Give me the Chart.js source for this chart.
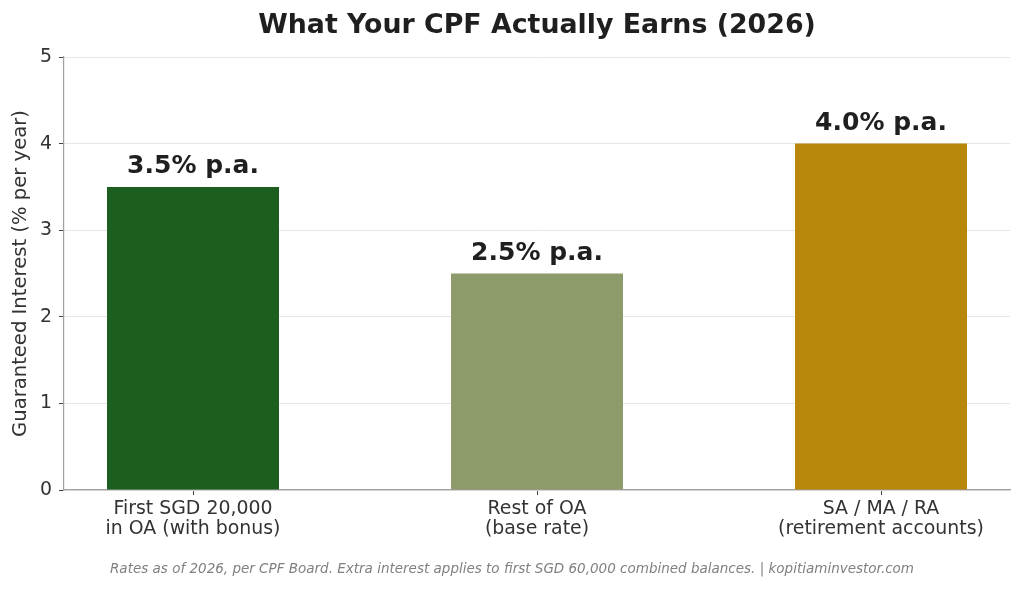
<!DOCTYPE html>
<html>
<head>
<meta charset="utf-8">
<script src="https://cdn.jsdelivr.net/npm/chart.js@4/dist/chart.umd.min.js"></script>
<style>
html,body{margin:0;padding:0;background:#fff;}
#wrap{width:1024px;height:590px;position:relative;}
</style>
</head>
<body>
<div id="wrap"><canvas id="c" width="1024" height="590"></canvas></div>
<script>
const categories = [
  ["First SGD 20,000", "in OA (with bonus)"],
  ["Rest of OA", "(base rate)"],
  ["SA / MA / RA", "(retirement accounts)"]
];
const rates = [3.5, 2.5, 4.0];
const rateLabels = ["3.5% p.a.", "2.5% p.a.", "4.0% p.a."];
const barColors = ["#1b5e20", "#8d9b6a", "#b8860b"];
const yTicks = [0, 1, 2, 3, 4, 5];
const titleText = "What Your CPF Actually Earns (2026)";
const yAxisTitle = "Guaranteed Interest (% per year)";
const footnote = "Rates as of 2026, per CPF Board. Extra interest applies to first SGD 60,000 combined balances. | kopitiaminvestor.com";

const FONT = "'DejaVu Sans'";

const overlay = {
  id: 'overlay',
  afterDatasetsDraw(chart) {
    const ctx = chart.ctx;
    const meta = chart.getDatasetMeta(0);
    ctx.save();
    ctx.fillStyle = '#1f1f1f';
    ctx.font = "bold 25px " + FONT;
    ctx.textAlign = 'center';
    ctx.textBaseline = 'alphabetic';
    meta.data.forEach((bar, i) => {
      ctx.fillText(rateLabels[i], bar.x, bar.y - 14);
    });
    ctx.restore();
  },
  afterDraw(chart) {
    const ctx = chart.ctx;
    const ca = chart.chartArea;
    ctx.save();
    ctx.fillStyle = '#1f1f1f';
    ctx.font = "bold 26.8px " + FONT;
    ctx.textAlign = 'center';
    ctx.textBaseline = 'alphabetic';
    ctx.fillText(titleText, (ca.left + ca.right) / 2, 33);
    ctx.fillStyle = '#808080';
    ctx.font = "italic 13.5px " + FONT;
    ctx.fillText(footnote, chart.width / 2, 573);
    ctx.restore();
  }
};

new Chart(document.getElementById('c'), {
  type: 'bar',
  data: {
    datasets: [{
      data: rates.map((v, i) => ({x: i, y: v})),
      backgroundColor: barColors,
      borderWidth: 0,
      barPercentage: 1.0,
      categoryPercentage: 0.5
    }]
  },
  options: {
    responsive: false,
    animation: false,
    devicePixelRatio: 1,
    layout: { padding: { top: 57, right: 14, left: 0, bottom: 0 } },
    plugins: {
      legend: { display: false },
      tooltip: { enabled: false },
      title: { display: false }
    },
    scales: {
      x: {
        type: 'linear',
        offset: false,
        min: -0.375,
        max: 2.375,
        afterBuildTicks(scale) {
          scale.ticks = categories.map((c, i) => ({value: i}));
        },
        afterFit(scale) { scale.height = 100; },
        ticks: {
          callback: (v) => categories[v] || '',
          color: '#333333',
          font: { family: FONT, size: 18.9, lineHeight: 1.06 },
          padding: 4,
          maxRotation: 0,
          autoSkip: false
        },
        grid: {
          offset: false,
          drawOnChartArea: false,
          drawTicks: true,
          tickLength: 5,
          tickColor: '#444444',
          tickWidth: 1
        },
        border: { display: true, color: '#a0a0a0', width: 1.2 }
      },
      y: {
        min: 0,
        max: 5,
        afterBuildTicks(scale) {
          scale.ticks = yTicks.map(v => ({value: v}));
        },
        afterFit(scale) { scale.width = 64; },
        ticks: {
          color: '#333333',
          font: { family: FONT, size: 18.9 },
          padding: 7
        },
        grid: {
          color: '#e6e6e6',
          lineWidth: 1,
          borderDash: [5, 3],
          tickLength: 5,
          tickColor: '#444444',
          tickWidth: 1,
          tickBorderDash: []
        },
        border: { display: true, color: '#a0a0a0', width: 1.2 },
        title: {
          display: true,
          text: yAxisTitle,
          color: '#333333',
          font: { family: FONT, size: 19.6 },
          padding: { top: 9, bottom: 0 }
        }
      }
    }
  },
  plugins: [overlay]
});
</script>
</body>
</html>
